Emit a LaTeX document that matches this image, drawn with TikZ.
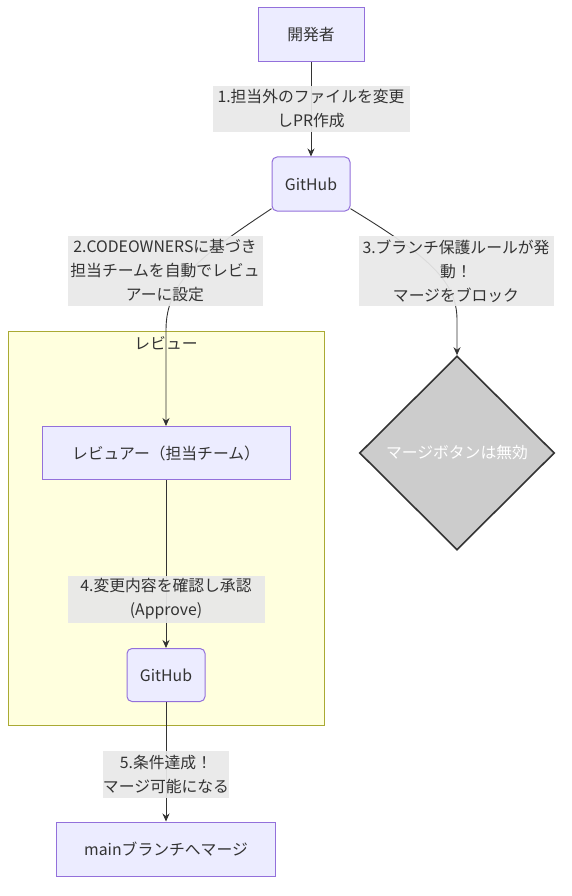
\documentclass[tikz,border=0pt]{standalone}
\usepackage{fontspec}
\setmainfont{Noto Sans CJK JP}
\usetikzlibrary{shapes.geometric,arrows.meta}
\definecolor{nodefill}{HTML}{ECECFF}
\definecolor{nodeline}{HTML}{9370DB}
\definecolor{txt}{HTML}{333333}
\definecolor{lblfill}{HTML}{E8E8E8}
\definecolor{sgfill}{HTML}{FFFFDE}
\definecolor{sgline}{HTML}{AAAA33}
\definecolor{dfill}{HTML}{CCCCCC}
\tikzset{
  x=1pt, y=-1pt,
  every node/.style={font=\fontsize{15.8}{24}\selectfont, text=txt},
  box/.style={draw=nodeline, fill=nodefill, line width=1pt, inner sep=0pt, align=center},
  rbox/.style={box, rounded corners=5pt},
  lbl/.style={fill=lblfill, fill opacity=0.93, text opacity=1, inner sep=0pt, align=center},
  conn/.style={draw=txt, line width=0.9pt},
  arr/.style={conn, -{Stealth[length=8pt,width=7pt]}},
}
\begin{document}
\begin{tikzpicture}
\useasboundingbox (0,0) rectangle (571,896);
% subgraph
\draw[fill=sgfill, draw=sgline, line width=1pt] (8,331) rectangle (324,725);
\node (sgt) at (166,343) {レビュー};
% nodes
\node[box, minimum width=106pt, minimum height=54pt] (dev) at (311,35) {開発者};
\node[rbox, minimum width=78pt, minimum height=54pt] (gh1) at (311,184) {GitHub};
\node[box, minimum width=248pt, minimum height=53pt] (rev) at (166,453) {レビュアー（担当チーム）};
\node[rbox, minimum width=78pt, minimum height=53pt] (gh2) at (166,675) {GitHub};
\node[box, minimum width=219pt, minimum height=54pt] (main) at (166,849) {mainブランチへマージ};
\node[diamond, draw=txt, fill=dfill, line width=1.6pt, inner sep=0pt, minimum width=195pt, minimum height=194pt, text=white] (dia) at (457,453) {マージボタンは無効};
% edges
\draw[arr] (dev.south) -- (gh1.north);
\draw[arr] (gh1.212) .. controls (200,256) and (166,282) .. (166,330) -- (rev.north);
\draw[arr] (gh1.328) .. controls (430,257) and (457,282) .. (457,320) -- (dia.north);
\draw[arr] (rev.south) -- (gh2.north);
\draw[arr] (gh2.south) -- (main.north);
% labels
\node[lbl, minimum width=197pt, minimum height=46pt] (l1) at (311,109) {1.担当外のファイルを変更\\しPR作成};
\node[lbl, minimum width=195pt, minimum height=70pt] (l2) at (165,271) {2.CODEOWNERSに基づき\\担当チームを自動でレビュ\\アーに設定};
\node[lbl, minimum width=195pt, minimum height=70pt] (l3) at (456,271) {3.ブランチ保護ルールが発\\動！\\マージをブロック};
\node[lbl, minimum width=197pt, minimum height=47pt] (l4) at (166,599) {4.変更内容を確認し承認\\(Approve)};
\node[lbl, minimum width=126pt, minimum height=47pt] (l5) at (166,774) {5.条件達成！\\マージ可能になる};
\end{tikzpicture}
\end{document}
